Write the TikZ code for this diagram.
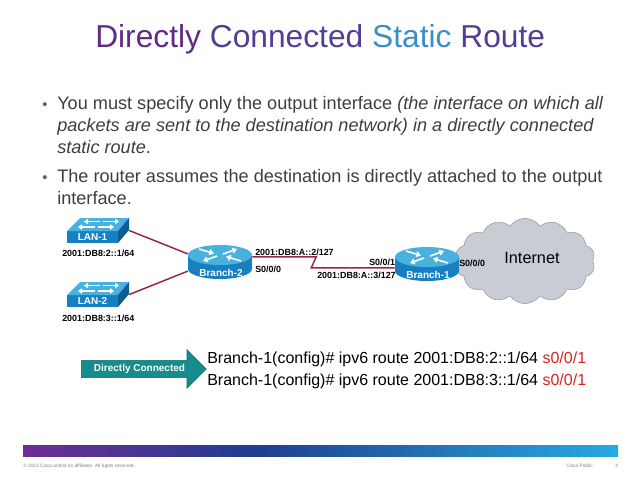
\documentclass[tikz,border=0pt]{standalone}
\usepackage{fontspec}
\setmainfont{Liberation Sans}
\usetikzlibrary{arrows.meta, positioning, shapes.symbols, shapes.arrows}

\definecolor{titlepurple}{RGB}{98,42,132}
\definecolor{titleviolet}{RGB}{82,62,148}
\definecolor{titleblue}{RGB}{58,142,200}
\definecolor{bodygray}{RGB}{62,62,62}
\definecolor{dotgray}{RGB}{105,85,130}
\definecolor{linkred}{RGB}{155,35,72}
\definecolor{devtop}{RGB}{72,178,222}
\definecolor{devfront}{RGB}{24,128,192}
\definecolor{devside}{RGB}{14,92,148}
\definecolor{cloudgray}{RGB}{200,204,212}
\definecolor{arrowteal}{RGB}{22,140,140}
\definecolor{cmdred}{RGB}{212,36,36}
\definecolor{barpurple}{RGB}{110,45,150}
\definecolor{barnavy}{RGB}{32,62,142}
\definecolor{barcyan}{RGB}{38,170,226}

\tikzset{
  pt/.style={anchor=north west, align=left, inner sep=0pt, text=bodygray,
    font=\fontsize{13.6}{16.5}\selectfont},
  dotlbl/.style={anchor=base west, inner sep=0pt, text=dotgray,
    font=\fontsize{11}{12}\selectfont},
  devlbl/.style={text=white, inner sep=0pt, font=\bfseries\fontsize{7.5}{8}\selectfont},
  addr/.style={anchor=base west, inner sep=0pt, font=\bfseries\fontsize{6.7}{7}\selectfont},
  swbox/.style={minimum width=46.5pt, minimum height=18.75pt, inner sep=0pt},
  rtbox/.style={minimum width=48pt, minimum height=26.25pt, inner sep=0pt},
  link/.style={linkred, line width=1.1pt},
  cmd/.style={anchor=base west, inner sep=0pt, font=\fontsize{12}{14}\selectfont},
  foot/.style={anchor=west, inner sep=0pt, text=gray, font=\fontsize{3.6}{4}\selectfont},
}

% router icon, (#1,#2) = centre of the top ellipse
\newcommand{\routericon}[2]{%
  \fill[devfront] (#1-32,#2) -- (#1-32,#2+14)
    arc[start angle=180, end angle=360, x radius=24pt, y radius=7.5pt]
    -- (#1+32,#2) -- cycle;
  \fill[devtop] (#1,#2) ellipse[x radius=24pt, y radius=7.5pt];
  \begin{scope}[white, line width=1.2pt, -{Triangle[length=3.5pt,width=4.5pt]}]
    \draw (#1+3,#2-1) -- (#1+17,#2-6);
    \draw (#1-3,#2+1) -- (#1-17,#2+6);
    \draw (#1-21,#2-6) -- (#1-6,#2-1.5);
    \draw (#1+21,#2+6) -- (#1+6,#2+1.5);
  \end{scope}
}

% switch icon, (#1,#2) = top left corner of the front face
\newcommand{\lanicon}[2]{%
  \fill[devfront] (#1,#2) rectangle (#1+51,#2+12);
  \fill[devtop] (#1,#2) -- (#1+13,#2-13) -- (#1+62,#2-13) -- (#1+51,#2) -- cycle;
  \fill[devside] (#1+51,#2) -- (#1+62,#2-13) -- (#1+62,#2-1) -- (#1+51,#2+12) -- cycle;
  \begin{scope}[white, line width=1pt, -{Triangle[length=3pt,width=4pt]}]
    \draw (#1+33,#2-9.5) -- (#1+17,#2-9.5);
    \draw (#1+36,#2-9.5) -- (#1+52,#2-9.5);
    \draw (#1+28,#2-4) -- (#1+11,#2-4);
    \draw (#1+31,#2-4) -- (#1+47,#2-4);
  \end{scope}
}

\begin{document}
\begin{tikzpicture}[x=0.75pt, y=-0.75pt]
    \useasboundingbox (0,0) rectangle (638,479);

    % Title
    \node[anchor=base west, inner sep=0pt, font=\fontsize{23.8}{28}\selectfont] (title) at (95,47)
        {\textcolor{titlepurple}{Directly} \textcolor{titleviolet}{Connected}
         \textcolor{titleblue}{Static} \textcolor{titleviolet}{Route}};

    % Bullet points
    \node[dotlbl] (dot1) at (42,109) {•};
    \node[pt] (pt1) at (57,95.8) {You must specify only the output interface \textit{(the interface on which all}\\
        \textit{packets are sent to the destination network) in a directly connected}\\
        \textit{static route}.};
    \node[dotlbl] (dot2) at (42,182) {•};
    \node[pt] (pt2) at (57,168.8) {The router assumes the destination is directly attached to the output\\
        interface.};

    % Internet cloud
    \node[cloud, cloud puffs=14, cloud puff arc=110, cloud ignores aspect, fill=cloudgray,
        draw=gray!80, minimum width=105pt, minimum height=64pt] (inet) at (525,261) {};
    \node[inner sep=0pt, font=\fontsize{12.2}{14}\selectfont] (inetlbl) at (532,258) {Internet};

    % Devices
    \lanicon{67}{231}
    \node[swbox] (lan1) at (98,230.5) {};
    \node[devlbl] (lan1lbl) at (92.5,237.5) {LAN-1};
    \lanicon{67}{295}
    \node[swbox] (lan2) at (98,294.5) {};
    \node[devlbl] (lan2lbl) at (92.5,301.5) {LAN-2};
    \routericon{220}{255}
    \node[rtbox] (br2) at (220,262.5) {};
    \node[devlbl] (br2lbl) at (221,273) {Branch-2};
    \routericon{427}{257}
    \node[rtbox] (br1) at (427,264.5) {};
    \node[devlbl] (br1lbl) at (428,275) {Branch-1};

    % Links
    \draw[link] (lan1.east) -- (br2.165);
    \draw[link] (lan2.east) -- (br2.195);
    \draw[link] (br2.10) -- ++(64,0) coordinate (zz1) -- ++(-5,11) coordinate (zz2)
        -- (zz2 -| br1.west);

    % Addresses and interfaces
    \node[addr] (lan1ip) at (62,256) {2001:DB8:2::1/64};
    \node[addr] (lan2ip) at (62,321) {2001:DB8:3::1/64};
    \node[addr] (br2ip) at (255,255) {2001:DB8:A::2/127};
    \node[addr] (br2if) at (255,272) {S0/0/0};
    \node[addr] (br1if) at (369,265) {S0/0/1};
    \node[addr] (br1ip) at (317,278) {2001:DB8:A::3/127};
    \node[addr] (br1out) at (459,266) {S0/0/0};

    % Directly connected arrow and commands
    \node[single arrow, single arrow head extend=8pt, fill=arrowteal, draw=arrowteal!75!black,
        line width=0.4pt, minimum height=93.75pt, minimum width=28pt, inner xsep=4pt, inner ysep=2.8pt,
        text=white, font=\bfseries\fontsize{7.5}{8}\selectfont] (dc) at (139.5,369) {Directly Connected};
    \node[cmd] (cmd1) at (207,363) {Branch-1(config)\# ipv6 route 2001:DB8:2::1/64 \textcolor{cmdred}{s0/0/1}};
    \node[cmd] (cmd2) at (207,385) {Branch-1(config)\# ipv6 route 2001:DB8:3::1/64 \textcolor{cmdred}{s0/0/1}};

    % Footer bar
    \shade[left color=barpurple, right color=barnavy] (23,445) rectangle (258,456);
    \shade[left color=barnavy, right color=barcyan] (257.5,445) rectangle (618,456);
    \node[foot] (copy) at (23,466) {© 2013 Cisco and/or its affiliates. All rights reserved.};
    \node[foot] (pub) at (566,466) {Cisco Public};
    \node[foot] (page) at (615,466) {4};
\end{tikzpicture}
\end{document}
